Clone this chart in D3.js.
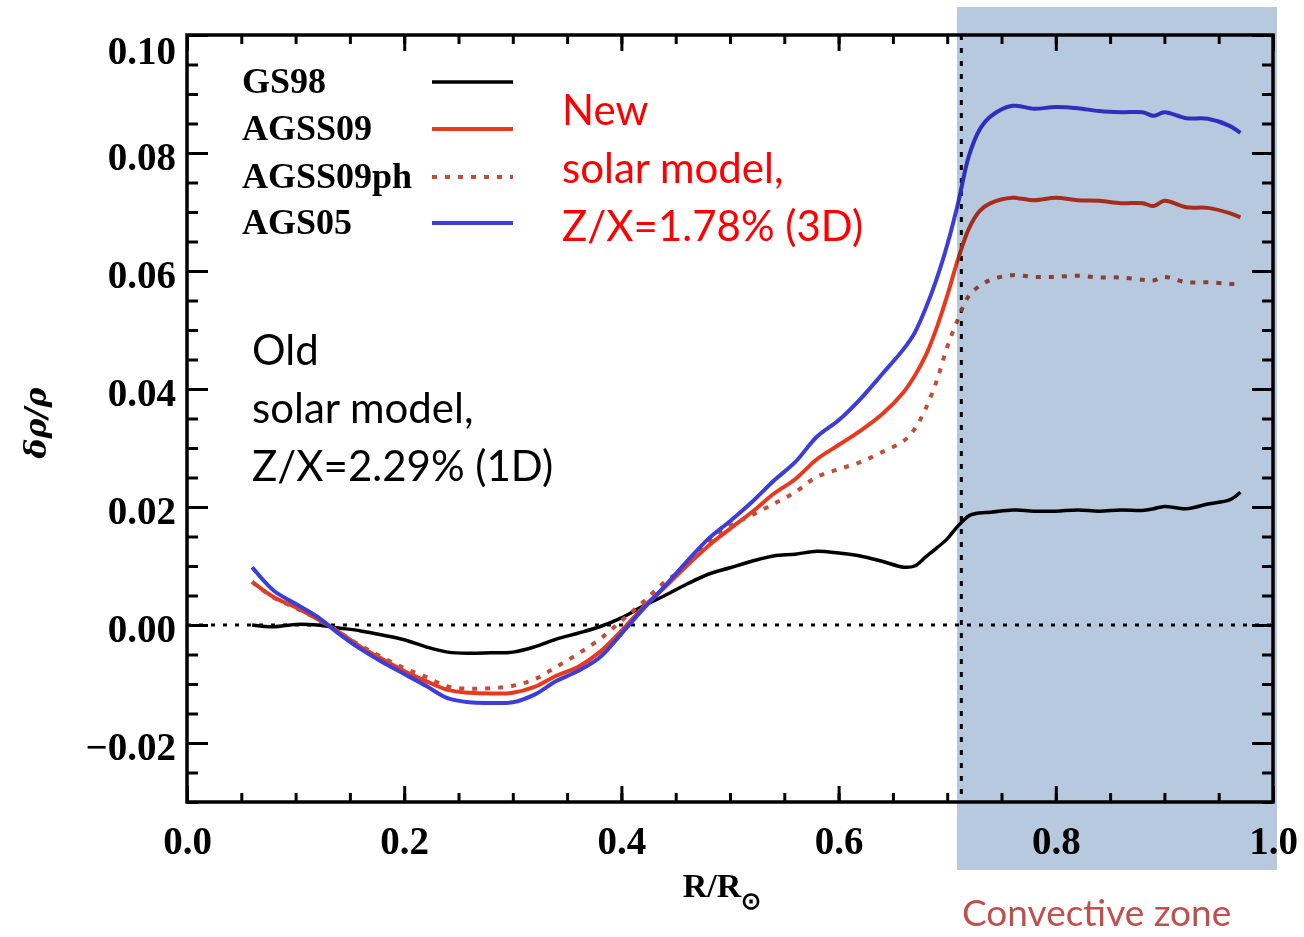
<!DOCTYPE html>
<html>
<head>
<meta charset="utf-8">
<script src="https://cdn.jsdelivr.net/npm/d3@7"></script>
<style>
  html, body { margin: 0; padding: 0; background: #fff; }
  svg { display: block; }
</style>
</head>
<body>
<svg id="chart" width="1304" height="937"></svg>
<script>
// ---- data (delta rho / rho vs R/Rsun) ----
const radius = [0.06, 0.08, 0.10, 0.12, 0.14, 0.16, 0.18, 0.20, 0.22, 0.24,
  0.26, 0.28, 0.30, 0.32, 0.34, 0.36, 0.38, 0.40, 0.42, 0.44,
  0.46, 0.48, 0.50, 0.52, 0.54, 0.56, 0.58, 0.60, 0.62, 0.64,
  0.66, 0.67, 0.68, 0.69, 0.70, 0.71, 0.72, 0.73, 0.74, 0.76,
  0.78, 0.80, 0.82, 0.84, 0.86, 0.88, 0.89, 0.90, 0.92, 0.94,
  0.96, 0.97];

const gs98 = [0.0000, -0.0003, 0.0001, 0.0000, -0.0005, -0.0010, -0.0017, -0.0025, -0.0037, -0.0046,
  -0.0048, -0.0047, -0.0046, -0.0037, -0.0024, -0.0014, -0.0003, 0.0012, 0.0032, 0.0050,
  0.0069, 0.0086, 0.0097, 0.0108, 0.0117, 0.0120, 0.0125, 0.0122, 0.0117, 0.0108,
  0.0098, 0.0100, 0.0115, 0.0130, 0.0146, 0.0168, 0.0185, 0.0190, 0.0191, 0.0195,
  0.0193, 0.0193, 0.0195, 0.0193, 0.0195, 0.0194, 0.0197, 0.0201, 0.0197, 0.0205,
  0.0212, 0.0225];

const agss09 = [0.0073, 0.0047, 0.0030, 0.0010, -0.0012, -0.0037, -0.0058, -0.0078, -0.0095, -0.0110,
  -0.0115, -0.0116, -0.0115, -0.0105, -0.0086, -0.0071, -0.0046, -0.0010, 0.0030, 0.0064,
  0.0100, 0.0134, 0.0163, 0.0191, 0.0222, 0.0247, 0.0281, 0.0305, 0.0329, 0.0357,
  0.0395, 0.0422, 0.0456, 0.0502, 0.0558, 0.0620, 0.0672, 0.0702, 0.0715, 0.0724,
  0.0720, 0.0724, 0.0720, 0.0719, 0.0715, 0.0715, 0.0710, 0.0719, 0.0708, 0.0707,
  0.0698, 0.0691];

const agss09ph = [0.0073, 0.0046, 0.0029, 0.0010, -0.0012, -0.0035, -0.0055, -0.0073, -0.0088, -0.0104,
  -0.0108, -0.0107, -0.0103, -0.0092, -0.0071, -0.0049, -0.0024, 0.0007, 0.0039, 0.0073,
  0.0100, 0.0141, 0.0168, 0.0186, 0.0205, 0.0225, 0.0251, 0.0264, 0.0276, 0.0293,
  0.0312, 0.0332, 0.0366, 0.0412, 0.0471, 0.0519, 0.0558, 0.0575, 0.0585, 0.0593,
  0.0590, 0.0590, 0.0592, 0.0589, 0.0589, 0.0585, 0.0584, 0.0590, 0.0581, 0.0581,
  0.0578, 0.0578];

const ags05 = [0.0098, 0.0058, 0.0036, 0.0014, -0.0015, -0.0041, -0.0063, -0.0083, -0.0103, -0.0124,
  -0.0131, -0.0132, -0.0131, -0.0118, -0.0095, -0.0078, -0.0055, -0.0015, 0.0027, 0.0066,
  0.0107, 0.0146, 0.0176, 0.0208, 0.0244, 0.0276, 0.0319, 0.0347, 0.0383, 0.0425,
  0.0468, 0.0495, 0.0536, 0.0585, 0.0644, 0.0715, 0.0795, 0.0840, 0.0862, 0.0880,
  0.0875, 0.0878, 0.0876, 0.0871, 0.0869, 0.0869, 0.0863, 0.0869, 0.0859, 0.0858,
  0.0846, 0.0834];

const seriesNames = ["GS98", "AGSS09", "AGSS09ph", "AGS05"];
const seriesValues = [gs98, agss09, agss09ph, ags05];

const xMajor = [0.0, 0.2, 0.4, 0.6, 0.8, 1.0];
const xMajorLabels = ["0.0", "0.2", "0.4", "0.6", "0.8", "1.0"];
const yMajor = [-0.02, 0.00, 0.02, 0.04, 0.06, 0.08, 0.10];
const yMajorLabels = ["\u22120.02", "0.00", "0.02", "0.04", "0.06", "0.08", "0.10"];

const convectiveBase = 0.713;   // base of the convective zone, R/Rsun

const oldModelText = ["Old", "solar model,", "Z/X=2.29% (1D)"];
const newModelText = ["New", "solar model,", "Z/X=1.78% (3D)"];

// ---- styles ----
const styles = {
  GS98:     { color: "#000000", width: 3.5, dash: null },
  AGSS09:   { color: "#e8391f", width: 4, dash: null },
  AGSS09ph: { color: "#c24e3a", width: 4, dash: "5,8" },
  AGS05:    { color: "#3d3dd8", width: 4, dash: null }
};

const svg = d3.select("#chart");
svg.append("rect").attr("width", 1304).attr("height", 937).attr("fill", "#fff");

const x = d3.scaleLinear().domain([0, 1]).range([187, 1273]);
const y = d3.scaleLinear().domain([-0.03, 0.10]).range([802, 35]);

const tickFont = "'Liberation Serif', 'Times New Roman', serif";

// ---- axes (ticks point inward) ----
function styleAxis(g) {
  g.select(".domain").remove();
  g.selectAll(".tick line").attr("stroke", "#000").attr("stroke-width", 3);
  g.selectAll(".tick text")
    .attr("fill", "#000")
    .style("font-family", tickFont)
    .style("font-weight", "bold")
    .style("font-size", "39px");
}

const xMinor = d3.range(0, 1.0001, 0.05);
const yMinor = d3.range(-0.03, 0.1001, 0.005);

// minor ticks
svg.append("g").attr("transform", `translate(0,${y(-0.03)})`)
  .call(d3.axisBottom(x).tickValues(xMinor).tickSize(-9).tickFormat(""))
  .call(styleAxis);
svg.append("g").attr("transform", `translate(0,${y(0.10)})`)
  .call(d3.axisTop(x).tickValues(xMinor).tickSize(-9).tickFormat(""))
  .call(styleAxis);
svg.append("g").attr("transform", `translate(${x(0)},0)`)
  .call(d3.axisLeft(y).tickValues(yMinor).tickSize(-11).tickFormat(""))
  .call(styleAxis);
svg.append("g").attr("transform", `translate(${x(1)},0)`)
  .call(d3.axisRight(y).tickValues(yMinor).tickSize(-11).tickFormat(""))
  .call(styleAxis);

// major ticks + labels
svg.append("g").attr("transform", `translate(0,${y(-0.03)})`)
  .call(d3.axisBottom(x).tickValues(xMajor).tickSize(-16).tickPadding(24)
    .tickFormat((d, i) => xMajorLabels[i]))
  .call(styleAxis);
svg.append("g").attr("transform", `translate(0,${y(0.10)})`)
  .call(d3.axisTop(x).tickValues(xMajor).tickSize(-16).tickFormat(""))
  .call(styleAxis);
const yAxisG = svg.append("g").attr("transform", `translate(${x(0)},0)`)
  .call(d3.axisLeft(y).tickValues(yMajor).tickSize(-21).tickPadding(11)
    .tickFormat((d, i) => yMajorLabels[i]))
  .call(styleAxis);
yAxisG.selectAll(".tick text").attr("dy", "0.42em");
// the top label sits below its tick, as in the original
yAxisG.selectAll(".tick text").filter(d => d === 0.10).attr("dy", "0.72em");
svg.append("g").attr("transform", `translate(${x(1)},0)`)
  .call(d3.axisRight(y).tickValues(yMajor).tickSize(-21).tickFormat(""))
  .call(styleAxis);

// frame
svg.append("rect")
  .attr("x", x(0)).attr("y", y(0.10))
  .attr("width", x(1) - x(0)).attr("height", y(-0.03) - y(0.10))
  .attr("fill", "none").attr("stroke", "#000").attr("stroke-width", 3.5);

// zero line and convective zone boundary
svg.append("line")
  .attr("x1", x(0)).attr("x2", x(1)).attr("y1", y(0)).attr("y2", y(0))
  .attr("stroke", "#000").attr("stroke-width", 3).attr("stroke-dasharray", "4,8");
svg.append("line")
  .attr("x1", x(convectiveBase)).attr("x2", x(convectiveBase))
  .attr("y1", y(0.10)).attr("y2", y(-0.03))
  .attr("stroke", "#000").attr("stroke-width", 3).attr("stroke-dasharray", "5,8");

// ---- curves ----
const line = d3.line()
  .x((d, i) => x(radius[i]))
  .y(d => y(d))
  .curve(d3.curveCatmullRom.alpha(0.5));

seriesNames.forEach((name, k) => {
  const s = styles[name];
  svg.append("path")
    .datum(seriesValues[k])
    .attr("d", line)
    .attr("fill", "none")
    .attr("stroke", s.color)
    .attr("stroke-width", s.width)
    .attr("stroke-linejoin", "round")
    .attr("stroke-dasharray", s.dash);
});

// ---- legend ----
const legendRows = [82, 129, 177, 223];
seriesNames.forEach((name, k) => {
  const s = styles[name];
  svg.append("text")
    .attr("x", 242).attr("y", legendRows[k] + 11)
    .style("font-family", tickFont)
    .style("font-weight", "bold")
    .style("font-size", "36px")
    .text(name);
  svg.append("line")
    .attr("x1", 432).attr("x2", 513)
    .attr("y1", legendRows[k]).attr("y2", legendRows[k])
    .attr("stroke", s.color)
    .attr("stroke-width", s.width)
    .attr("stroke-dasharray", s.dash);
});

// ---- axis titles ----
svg.append("text")
  .attr("transform", "translate(46,423) rotate(-90)")
  .attr("text-anchor", "middle")
  .style("font-family", "'DejaVu Serif', serif")
  .style("font-weight", "bold")
  .style("font-style", "italic")
  .style("font-size", "30px")
  .text("\u03b4\u03c1/\u03c1");

const xTitle = svg.append("text")
  .attr("x", 722).attr("y", 897)
  .attr("text-anchor", "middle")
  .style("font-family", tickFont)
  .style("font-weight", "bold")
  .style("font-size", "34px");
xTitle.append("tspan").text("R/R");
xTitle.append("tspan").attr("dy", 12).style("font-size", "24px").text("\u2299");

// ---- annotations ----
const noteFont = "Lato, 'Open Sans', sans-serif";
oldModelText.forEach((t, i) => {
  svg.append("text")
    .attr("x", 252).attr("y", 365 + i * 58)
    .style("font-family", noteFont).style("font-size", "42px")
    .attr("fill", "#000").text(t);
});
newModelText.forEach((t, i) => {
  svg.append("text")
    .attr("x", 562).attr("y", 125 + i * 58)
    .style("font-family", noteFont).style("font-size", "42px")
    .attr("fill", "#ff0000").text(t);
});

// convective zone shading (multiplied over the plot)
svg.append("rect")
  .attr("x", 957).attr("y", 7)
  .attr("width", 320).attr("height", 863)
  .attr("fill", "#b7c9df")
  .style("mix-blend-mode", "multiply");

svg.append("text")
  .attr("x", 962).attr("y", 926)
  .style("font-family", noteFont).style("font-size", "37px")
  .attr("fill", "#c0504d")
  .text("Convective zone");
</script>
</body>
</html>
